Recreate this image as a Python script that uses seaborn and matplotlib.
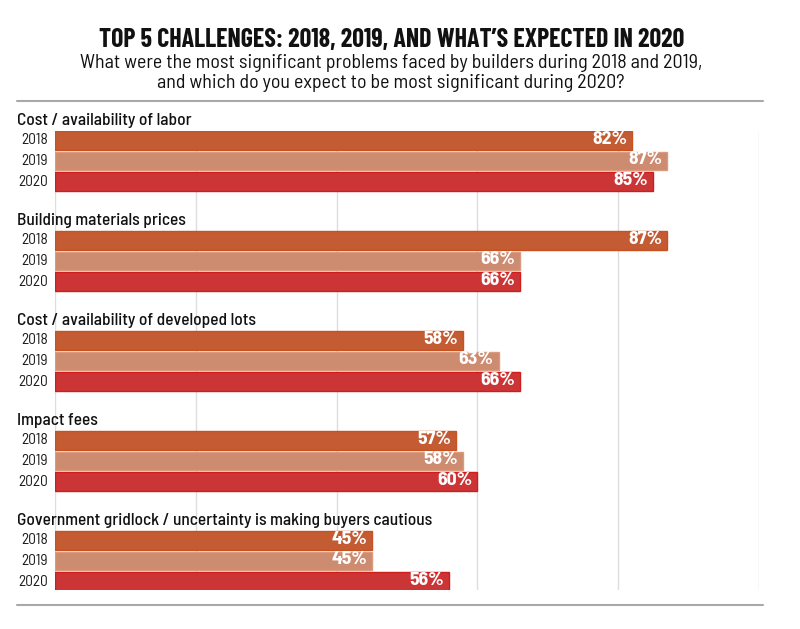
import matplotlib
matplotlib.use("Agg")
import matplotlib.pyplot as plt
from matplotlib.lines import Line2D
import matplotlib.transforms as mtransforms
import pandas as pd
import seaborn as sns

categories = [
    "Cost / availability of labor",
    "Building materials prices",
    "Cost / availability of developed lots",
    "Impact fees",
    "Government gridlock / uncertainty is making buyers cautious",
]
years = ["2018", "2019", "2020"]
values_2018 = [82, 87, 58, 57, 45]
values_2019 = [87, 66, 63, 58, 45]
values_2020 = [85, 66, 66, 60, 56]

title = "TOP 5 CHALLENGES: 2018, 2019, AND WHAT\u2019S EXPECTED IN 2020"
subtitle_lines = [
    "What were the most significant problems faced by builders during 2018 and 2019,",
    "and which do you expect to be most significant during 2020?",
]

fill_colors = {"2018": "#C35C33", "2019": "#CD8B6F", "2020": "#CC3535"}
edge_colors = {"2018": "#C9511F", "2019": "#D99A80", "2020": "#D11C1C"}

rows = []
for y, vals in zip(years, [values_2018, values_2019, values_2020]):
    for c, v in zip(categories, vals):
        rows.append({"category": c, "year": y, "value": v})
df = pd.DataFrame(rows)

sns.set_theme(style="white")
body_font = ["Barlow Semi Condensed", "Roboto Condensed", "DejaVu Sans"]
title_font = ["Barlow Condensed", "Roboto Condensed", "DejaVu Sans"]
plt.rcParams["font.family"] = body_font

W, H = 800, 629
fig = plt.figure(figsize=(W / 100, H / 100), dpi=100)
ax_left, ax_right, ax_top, ax_bottom = 55, 759, 131, 590
ax = fig.add_axes([ax_left / W, 1 - ax_bottom / H, (ax_right - ax_left) / W, (ax_bottom - ax_top) / H])

sns.barplot(data=df, x="value", y="category", hue="year", hue_order=years,
            order=categories, palette=fill_colors, orient="h", saturation=1,
            width=0.615, gap=0.1, linewidth=1.0, legend=False, ax=ax,
            errorbar=None)

ax.set_xlim(0, 100)
ax.set_ylim(4.29, -0.30)
ax.set_xticks([0, 20, 40, 60, 80, 100])
ax.xaxis.grid(True, color="#dddddd", linewidth=1.0)
ax.yaxis.grid(False)
ax.set_axisbelow(True)
ax.tick_params(axis="both", length=0, labelbottom=False, labelleft=False)
ax.set_xlabel("")
ax.set_ylabel("")
for s in ax.spines.values():
    s.set_visible(False)

year_tr = mtransforms.blended_transform_factory(fig.transFigure, ax.transData)
for year, cont in zip(years, ax.containers):
    for patch in cont:
        patch.set_edgecolor(edge_colors[year])
        w = patch.get_width()
        yc = patch.get_y() + patch.get_height() / 2
        ax.annotate(f"{w:.0f}%", xy=(w, yc), xytext=(-3.5, 0.8), textcoords="offset points",
                    ha="right", va="center", color="white", fontsize=14.2,
                    fontweight="bold", family=body_font)
        ax.text(48 / W, yc, year, transform=year_tr, ha="right", va="center",
                fontsize=11, color="#1a1a1a", family=body_font)

for i, c in enumerate(categories):
    ax.text(17 / W, i - 0.40, c, transform=year_tr, ha="left", va="center",
            fontsize=12.5, fontweight="medium", color="#111111", family=body_font)

fig.text(392 / W, 1 - 40 / H, title, ha="center", va="center", fontsize=18.7,
         fontweight="bold", color="#111111", family=title_font)
for yy, line in zip((63, 83), subtitle_lines):
    fig.text(391 / W, 1 - yy / H, line, ha="center", va="center", fontsize=14.4,
             color="#111111", family=body_font)

for yy in (101, 605):
    fig.add_artist(Line2D([17 / W, 763 / W], [1 - yy / H, 1 - yy / H],
                          transform=fig.transFigure, color="#a8a8a8", linewidth=1.5))

fig.savefig("out.png", dpi=100)
